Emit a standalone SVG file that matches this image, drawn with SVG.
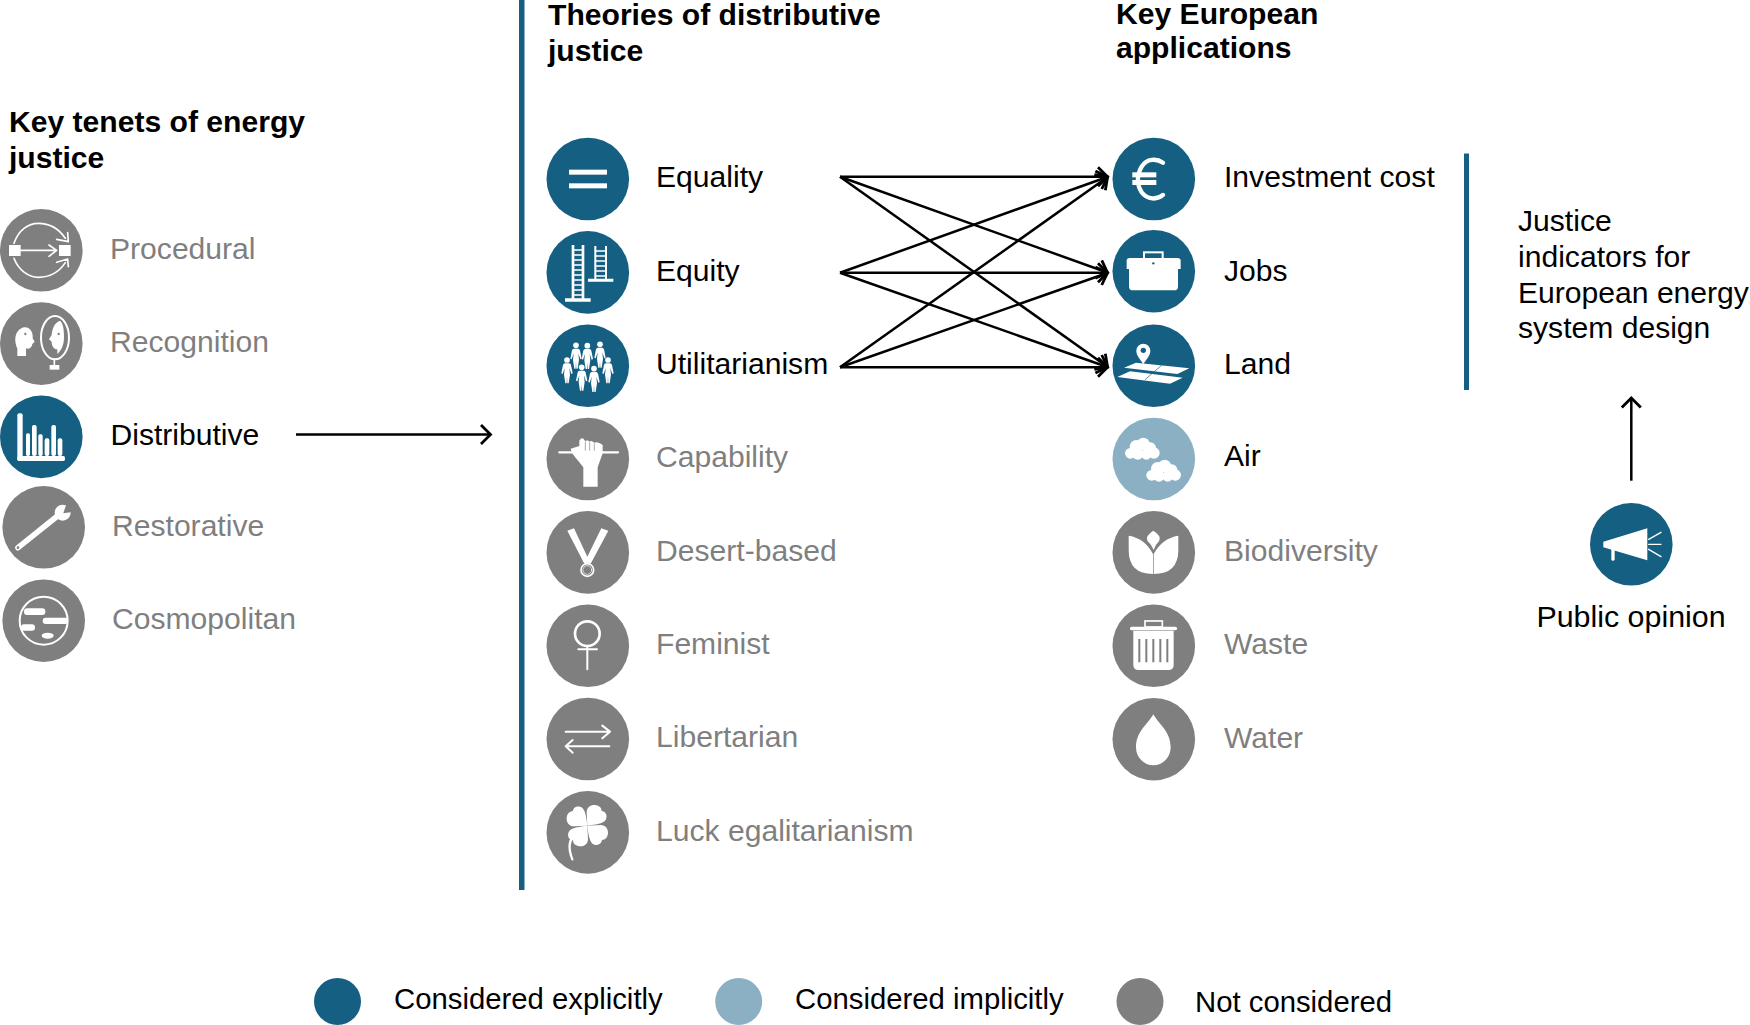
<svg xmlns="http://www.w3.org/2000/svg" xmlns:xlink="http://www.w3.org/1999/xlink" width="1750" height="1025" viewBox="0 0 1750 1025">
<style>
text{font-family:"Liberation Sans",Arial,sans-serif;font-size:30.1px;fill:#000}
.g{fill:#7f7f7f}
.h{font-weight:bold}
.leg{font-size:29.3px}
.cb{fill:#156082}.cl{fill:#8cb0c3}.cg{fill:#7f7f7f}
.i{fill:#fff;stroke:none}
.s{fill:none;stroke:#fff;stroke-linecap:round;stroke-linejoin:round}
.conn{fill:none;stroke:#000;stroke-width:2.5}
</style>
<defs>
<marker id="ah" markerUnits="userSpaceOnUse" markerWidth="24" markerHeight="28" refX="18" refY="14" orient="auto" overflow="visible">
<path d="M8 4.500L17.500 14L8 23.500" fill="none" stroke="#000" stroke-width="2.800"/>
</marker>
<g id="person">
<circle cx="0" cy="0" r="8.500"/>
<path d="M-7 10H7C11 11 12 14 13 20L17 40L13 42L7 24L9 44L5 70H1L0 50L-1 70H-5L-9 44L-7 24L-13 42L-17 40L-13 20C-12 14-11 11-7 10Z"/>
</g>
<path id="leaf" d="M172 437L170 397C170 382 182 374 195 375C208 376 215 384 215 393C226 394 232 404 229 415C226 427 212 433 172 437Z"/>
<g id="cloud">
<circle cx="-36" cy="14" r="16"/><circle cx="-18" cy="-6" r="20"/><circle cx="3" cy="-14" r="19"/><circle cx="24" cy="-2" r="17"/><circle cx="35" cy="13" r="17"/><circle cx="-14" cy="16" r="17"/><circle cx="12" cy="17" r="16"/>
</g>
</defs>
<rect width="1750" height="1025" fill="#fff"/>

<g id="dividers" class="cb">
<rect x="519" y="0" width="5.500" height="890"/>
<rect x="1464" y="153.500" width="5" height="236.500"/>
</g>

<g id="headers">
<text class="h" x="9" y="132">Key tenets of energy</text>
<text class="h" x="9" y="168">justice</text>
<text class="h" x="548" y="25">Theories of distributive</text>
<text class="h" x="548" y="61">justice</text>
<text class="h" x="1116" y="24">Key European</text>
<text class="h" x="1116" y="58">applications</text>
</g>

<g id="connectors" class="conn">
<line x1="840" y1="176.700" x2="1108" y2="176.700" marker-end="url(#ah)"/>
<line x1="840" y1="176.700" x2="1108" y2="272.700" marker-end="url(#ah)"/>
<line x1="840" y1="176.700" x2="1108" y2="367.300" marker-end="url(#ah)"/>
<line x1="840" y1="272.700" x2="1108" y2="176.700" marker-end="url(#ah)"/>
<line x1="840" y1="272.700" x2="1108" y2="272.700" marker-end="url(#ah)"/>
<line x1="840" y1="272.700" x2="1108" y2="367.300" marker-end="url(#ah)"/>
<line x1="840" y1="367.300" x2="1108" y2="176.700" marker-end="url(#ah)"/>
<line x1="840" y1="367.300" x2="1108" y2="272.700" marker-end="url(#ah)"/>
<line x1="840" y1="367.300" x2="1108" y2="367.300" marker-end="url(#ah)"/>
<line x1="296" y1="434.500" x2="491" y2="434.500" marker-end="url(#ah)"/>
<line x1="1631.300" y1="480.700" x2="1631.300" y2="397.500" marker-end="url(#ah)"/>
</g>

<g id="node-procedural">
<circle class="cg" cx="41.300" cy="250.300" r="41.300"/>
<g transform="translate(0,190) scale(.3333)">
<rect class="i" x="27" y="165" width="35" height="33"/><rect class="i" x="177" y="165" width="35" height="33"/>
<path class="s" stroke-width="5" d="M62 181H168M147 165L170 181L147 199M42 160C55 120 85 100 115 100C150 100 178 118 196 145M170 148L205 155L203 128M42 205C55 240 85 262 115 262C150 262 178 245 196 218M170 217L203 207L205 230"/>
</g>
<text class="g" x="110" y="259">Procedural</text>
</g>

<g id="node-recognition">
<circle class="cg" cx="41.300" cy="343.600" r="41.300"/>
<g transform="translate(0,190) scale(.3333)">
<path class="i" d="M52 498V475C42 455 42 420 72 412C92 410 100 430 98 445L104 455L97 462C95 475 85 478 78 475V498Z"/>
<circle class="cg" cx="76" cy="432" r="3.500"/>
<ellipse class="s" stroke-width="6" cx="165" cy="443" rx="42" ry="65"/>
<path class="i" d="M180 392C162 398 156 420 155 435L147 448L155 455C155 470 163 478 172 478V492C185 480 192 465 192 440C192 420 190 400 180 392Z"/>
<circle class="cg" cx="176" cy="432" r="3.500"/>
<path class="s" stroke-width="5" d="M163 508V528"/><rect class="i" x="149" y="525" width="29" height="14"/>
</g>
<text class="g" x="110" y="352.300">Recognition</text>
</g>

<g id="node-distributive">
<circle class="cb" cx="41.300" cy="436.900" r="41.300"/>
<g transform="translate(0,190) scale(.3333)">
<rect class="i" x="52" y="670" width="16" height="143" rx="6"/><rect class="i" x="52" y="798" width="143" height="15" rx="5"/>
<rect class="i" x="78" y="730" width="12" height="68" rx="5"/><rect class="i" x="96" y="705" width="14" height="93" rx="6"/><rect class="i" x="115" y="733" width="13" height="65" rx="5"/><rect class="i" x="134" y="745" width="14" height="53" rx="6"/><rect class="i" x="154" y="705" width="14" height="93" rx="6"/><rect class="i" x="173" y="745" width="14" height="53" rx="6"/>
</g>
<text x="110.500" y="445">Distributive</text>
</g>

<g id="node-restorative">
<circle class="cg" cx="43.700" cy="527.300" r="41.300"/>
<g transform="translate(0,470) scale(.3333)">
<path class="s" stroke-width="17" d="M54 233L180 132"/>
<circle class="i" cx="188" cy="128" r="24"/>
<path class="cg" d="M190 130L200 100L222 100L222 125Z"/>
<circle class="cg" cx="54" cy="233" r="4"/>
</g>
<text class="g" x="112" y="535.700">Restorative</text>
</g>

<g id="node-cosmopolitan">
<circle class="cg" cx="43.700" cy="620.700" r="41.300"/>
<g transform="translate(0,470) scale(.3333)">
<circle class="s" stroke-width="6" cx="131" cy="452" r="72"/>
<rect class="i" x="72" y="415" width="64" height="20" rx="9"/>
<rect class="i" x="128" y="443" width="76" height="19" rx="9"/>
<rect class="i" x="63" y="463" width="42" height="19" rx="9"/>
<ellipse class="i" cx="143" cy="497" rx="18" ry="9"/>
</g>
<text class="g" x="112" y="629">Cosmopolitan</text>
</g>

<g id="node-equality">
<circle class="cb" cx="587.800" cy="179" r="41.300"/>
<g transform="translate(530,120) scale(.3333)"><rect class="i" x="117" y="149" width="114" height="15"/><rect class="i" x="117" y="190" width="114" height="15"/></g>
<text x="656" y="186.600">Equality</text>
</g>

<g id="node-equity">
<circle class="cb" cx="587.800" cy="272.400" r="41.300"/>
<g transform="translate(530,120) scale(.3333)">
<path class="i" d="M125 375h8v165h-8zM155 375h8v165h-8zM105 535h77v10h-77zM193 378h6v100h-6zM225 378h6v100h-6zM174 476h76v9h-76z"/>
<path class="s" stroke-width="4" d="M130 390H160M130 405H160M130 420H160M130 435H160M130 450H160M130 465H160M130 480H160M130 495H160M130 510H160M130 525H160M196 393H228M196 408H228M196 423H228M196 438H228M196 453H228M196 468H228"/>
</g>
<text x="656" y="281">Equity</text>
</g>

<g id="node-utilitarianism">
<circle class="cb" cx="587.800" cy="365.800" r="41.300"/>
<g transform="translate(530,120) scale(.3333)" fill="#fff">
<use xlink:href="#person" href="#person" x="138" y="676"/><use xlink:href="#person" href="#person" x="172" y="677"/><use xlink:href="#person" href="#person" x="210" y="673"/><use xlink:href="#person" href="#person" x="111" y="720"/><use xlink:href="#person" href="#person" x="234" y="720"/><use xlink:href="#person" href="#person" x="155" y="742"/><use xlink:href="#person" href="#person" x="192" y="746"/>
</g>
<text x="656" y="374.300">Utilitarianism</text>
</g>

<g id="node-capability">
<circle class="cg" cx="587.800" cy="459" r="41.300"/>
<g transform="translate(530,410) scale(.3333)">
<path class="s" stroke-width="7" d="M88 127H264"/>
<path class="i" d="M160 230V172L125 128L122 116L148 108V92Q156 78 165 92V95Q172 86 178 95Q186 90 192 98Q205 94 218 105V130L203 172V230Z"/>
<path d="M166 96V122M179 97V122M193 100V122" fill="none" stroke="#7f7f7f" stroke-width="2"/>
</g>
<text class="g" x="656" y="466.600">Capability</text>
</g>

<g id="node-desert">
<circle class="cg" cx="587.800" cy="552.400" r="41.300"/>
<g transform="translate(530,410) scale(.3333)">
<path class="i" d="M112 362L132 355L172 440L214 355L235 362L180 465H165Z"/>
<circle class="cg" cx="172" cy="480" r="22"/>
<circle class="s" stroke-width="5" cx="172" cy="480" r="19"/>
<circle class="s" stroke-width="2" cx="172" cy="480" r="13"/>
</g>
<text class="g" x="656" y="561">Desert-based</text>
</g>

<g id="node-feminist">
<circle class="cg" cx="587.800" cy="645.800" r="41.300"/>
<g transform="translate(530,410) scale(.3333)">
<circle class="s" stroke-width="8" cx="172" cy="671" r="37"/>
<path class="s" stroke-width="6" d="M172 708V778M145 718H201"/>
</g>
<text class="g" x="656" y="654.300">Feminist</text>
</g>

<g id="node-libertarian">
<circle class="cg" cx="587.800" cy="739" r="41.300"/>
<g transform="translate(530,680) scale(.3333)">
<path class="s" stroke-width="6" d="M107 155H238M217 137L240 155L217 175M109 199H238M128 180L107 199L128 218"/>
</g>
<text class="g" x="656" y="746.600">Libertarian</text>
</g>

<g id="node-luck">
<circle class="cg" cx="587.800" cy="832.400" r="41.300"/>
<g transform="translate(530,680) scale(.3333)">
<g fill="#fff"><use xlink:href="#leaf" href="#leaf"/><use xlink:href="#leaf" href="#leaf" transform="rotate(90 172 437)"/><use xlink:href="#leaf" href="#leaf" transform="rotate(180 172 437)"/><use xlink:href="#leaf" href="#leaf" transform="rotate(270 172 437)"/></g>
<path class="s" stroke-width="7" d="M138 462C120 475 112 500 127 538"/>
</g>
<text class="g" x="656" y="840.500">Luck egalitarianism</text>
</g>

<g id="node-investment">
<circle class="cb" cx="1153.800" cy="179" r="41.300"/>
<g transform="translate(1100,130) scale(.3333)">
<path class="s" stroke-width="13" stroke-linecap="butt" d="M189 98C170 85 140 85 125 110C110 135 110 165 125 187C142 210 172 210 189 195"/>
<rect class="i" x="97" y="127" width="72" height="15"/><rect class="i" x="97" y="150" width="72" height="15"/>
</g>
<text x="1224" y="186.600">Investment cost</text>
</g>

<g id="node-jobs">
<circle class="cb" cx="1153.800" cy="271.200" r="41.300"/>
<g transform="translate(1100,130) scale(.3333)">
<rect x="132" y="367" width="56" height="24" fill="none" stroke="#fff" stroke-width="6"/>
<path class="i" d="M80 390Q80 385 88 384H234Q242 385 242 390V417H234V470Q234 481 222 481H99Q87 481 87 470V417H80Z"/>
<circle class="cb" cx="160" cy="400" r="3.500"/>
</g>
<text x="1224" y="281">Jobs</text>
</g>

<g id="node-land">
<circle class="cb" cx="1153.800" cy="365.800" r="41.300"/>
<g transform="translate(1100,130) scale(.3333)">
<path class="i" d="M130 703C122 688 109 678 109 662A21 21 0 0 1 151 662C151 678 138 688 130 703Z"/>
<circle class="cb" cx="130" cy="661" r="8"/>
<path class="i" d="M72 713L108 698L268 715L232 732Z"/>
<path class="i" d="M52 741L90 724L248 743L210 761Z"/>
<path d="M187 704L135 749" fill="none" stroke="#156082" stroke-width="2"/>
</g>
<text x="1224" y="374.300">Land</text>
</g>

<g id="node-air">
<circle class="cl" cx="1153.800" cy="459" r="41.300"/>
<g transform="translate(1100,410) scale(.3333)" fill="#fff">
<use xlink:href="#cloud" href="#cloud" x="127" y="116"/><use xlink:href="#cloud" href="#cloud" x="191" y="182"/>
</g>
<text x="1224" y="466">Air</text>
</g>

<g id="node-biodiversity">
<circle class="cg" cx="1153.800" cy="552.400" r="41.300"/>
<g transform="translate(1100,410) scale(.3333)">
<path class="i" d="M86 377Q135 385 159 432V492Q86 492 86 420Z"/>
<path class="i" d="M235 377Q186 385 161 432V492Q235 492 235 420Z"/>
<path class="i" d="M160 362Q185 378 178 392Q165 405 161 420Q156 405 142 392Q135 378 160 362Z"/>
</g>
<text class="g" x="1224" y="561">Biodiversity</text>
</g>

<g id="node-waste">
<circle class="cg" cx="1153.800" cy="645.800" r="41.300"/>
<g transform="translate(1100,410) scale(.3333)">
<rect x="135" y="633" width="52" height="18" fill="none" stroke="#fff" stroke-width="5"/>
<rect class="i" x="90" y="650" width="141" height="11" rx="5"/>
<path class="i" d="M100 662H221V765Q221 780 205 780H116Q100 780 100 765Z"/>
<path d="M118 687V757M139 687V757M160 687V757M181 687V757M202 687V757" fill="none" stroke="#7f7f7f" stroke-width="6"/>
</g>
<text class="g" x="1224" y="654.300">Waste</text>
</g>

<g id="node-water">
<circle class="cg" cx="1153.800" cy="739.200" r="41.300"/>
<g transform="translate(1100,410) scale(.3333)">
<path class="i" d="M160 913C178 945 212 965 212 1012A52 54 0 0 1 108 1012C108 965 142 945 160 913Z"/>
</g>
<text class="g" x="1224" y="748">Water</text>
</g>

<g id="node-justice-indicators">
<text x="1518" y="230.700">Justice</text>
<text x="1518" y="266.700">indicators for</text>
<text x="1518" y="302.700">European energy</text>
<text x="1518" y="338.400">system design</text>
</g>

<g id="node-public-opinion">
<circle class="cb" cx="1631.300" cy="544.300" r="41.300"/>
<g transform="translate(1560,380) scale(.3333)">
<path class="i" d="M130 485L262 445V541L130 502Z"/>
<rect class="i" x="154" y="505" width="10" height="37" rx="4"/>
<path class="s" stroke-width="4" d="M266 478L303 457M266 493H303M266 508L303 530"/>
</g>
<text x="1631" y="627" text-anchor="middle" style="font-size:30.4px">Public opinion</text>
</g>

<g id="legend">
<g id="legend-explicit"><circle class="cb" cx="337.500" cy="1001.500" r="23.500"/><text class="leg" x="394" y="1009">Considered explicitly</text></g>
<g id="legend-implicit"><circle class="cl" cx="738.700" cy="1001.500" r="23.500"/><text class="leg" x="795" y="1009">Considered implicitly</text></g>
<g id="legend-none"><circle class="cg" cx="1140" cy="1001.500" r="23.500"/><text class="leg" x="1195" y="1012">Not considered</text></g>
</g>
</svg>
